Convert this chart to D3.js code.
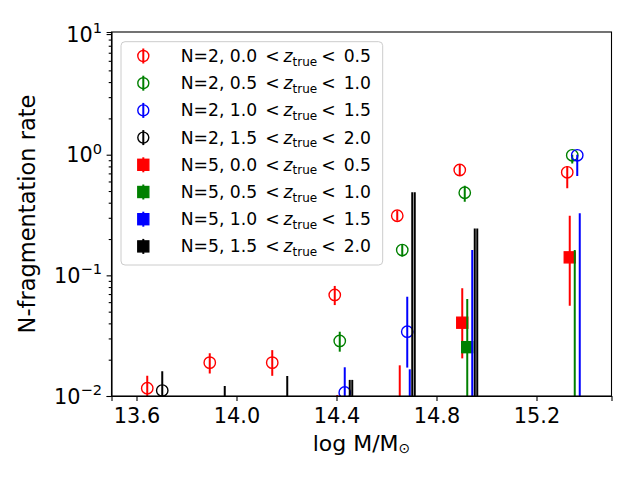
<!DOCTYPE html>
<html>
<head>
<meta charset="utf-8">
<script src="https://cdn.jsdelivr.net/npm/d3@7"></script>
<style>
  body { margin: 0; background: #fff; }
  text { font-family: 'DejaVu Sans', sans-serif; fill: #000; }
</style>
</head>
<body>
<div class="graphic"></div>
<script>
// mass bins (log M/Msun) of the N=2 / 0<z<0.5 points
const massBins = [13.643, 13.893, 14.143, 14.393, 14.643, 14.893, 15.323];
const zLabels = [['0.0', '0.5'], ['0.5', '1.0'], ['1.0', '1.5'], ['1.5', '2.0']];
const nValues = [2, 5];
const colors = ['#ff0000', '#008000', '#0000ff', '#000000'];

// rows = redshift bins, columns = mass bins; null = not drawn / below the axis
const n2Rate = [
  [0.0116, 0.0189, 0.0189, 0.0688, 0.312, 0.747, 0.715],
  [null, null, null, 0.0286, 0.162, 0.484, 0.989],
  [null, null, null, 0.0107, 0.0341, null, 0.989],
  [0.0111, null, null, null, null, null, null]
];
const n2Lo = [
  [null, 0.0154, 0.0147, 0.0567, 0.284, 0.679, 0.527],
  [null, null, null, 0.0233, 0.143, 0.408, 0.846],
  [null, null, null, null, 0.0172, null, 0.666],
  [null, null, null, null, null, null, null]
];
const n2Hi = [
  [0.0147, 0.0226, 0.0240, 0.0817, 0.343, 0.822, 0.806],
  [null, null, null, 0.0341, 0.182, 0.553, 1.0],
  [null, null, null, 0.0173, 0.0665, null, 1.0],
  [0.0160, 0.0121, 0.01465, 0.0136, 0.488, 0.245, null]
];
const n5Rate = [
  [null, null, null, null, null, 0.0405, 0.141],
  [null, null, null, null, null, 0.0254, null],
  [null, null, null, null, null, null, null],
  [null, null, null, null, null, null, null]
];
const n5Lo = [
  [null, null, null, null, null, 0.0205, 0.056],
  [null, null, null, null, null, null, null],
  [null, null, null, null, null, null, null],
  [null, null, null, null, null, null, null]
];
const n5Hi = [
  [null, null, null, 0.0102, 0.01796, 0.0782, 0.312],
  [null, null, null, null, null, 0.0637, 0.162],
  [null, null, null, null, 0.01664, 0.162, 0.327],
  [null, null, null, 0.0136, 0.488, 0.245, null]
];

const xTicks = [13.6, 14.0, 14.4, 14.8, 15.2];
const yTicks = [1e-2, 1e-1, 1e0, 1e1];

const width = 640;
const height = 480;
const plot = { left: 111.5, right: 611.5, top: 32, bottom: 396 };

const x = d3.scaleLinear().domain([13.5, 15.5]).range([plot.left, plot.right]);
const y = d3.scaleLog().domain([0.01, 10.4]).range([plot.bottom, plot.top]);

const svg = d3
  .select('.graphic')
  .append('svg')
  .attr('width', width)
  .attr('height', height);

svg.append('defs')
  .append('clipPath')
  .attr('id', 'plot-clip')
  .append('rect')
  .attr('x', plot.left)
  .attr('y', plot.top)
  .attr('width', plot.right - plot.left)
  .attr('height', plot.bottom - plot.top);

// flatten into one list per series, in matplotlib drawing order
const series = [];
nValues.forEach((n, ni) => {
  const rate = ni === 0 ? n2Rate : n5Rate;
  const lo = ni === 0 ? n2Lo : n5Lo;
  const hi = ni === 0 ? n2Hi : n5Hi;
  zLabels.forEach((z, zi) => {
    const pts = massBins.map((m, bi) => ({
      mass: m + zi * 0.02 + ni * 0.01,
      rate: rate[zi][bi],
      lo: lo[zi][bi],
      hi: hi[zi][bi]
    }));
    series.push({ n, zi, z, color: colors[zi], square: n === 5, pts });
  });
});

const marks = svg.append('g').attr('clip-path', 'url(#plot-clip)');

series.forEach(s => {
  const g = marks.append('g');

  g.selectAll('line')
    .data(s.pts.filter(d => d.hi !== null))
    .enter()
    .append('line')
    .attr('x1', d => x(d.mass))
    .attr('x2', d => x(d.mass))
    .attr('y1', d => (d.lo === null ? plot.bottom + 5 : y(d.lo)))
    .attr('y2', d => y(d.hi))
    .attr('stroke', s.color)
    .attr('stroke-width', 2);

  const pts = s.pts.filter(d => d.rate !== null);
  if (s.square) {
    g.selectAll('rect')
      .data(pts)
      .enter()
      .append('rect')
      .attr('x', d => x(d.mass) - 5.5)
      .attr('y', d => y(d.rate) - 5.5)
      .attr('width', 11)
      .attr('height', 11)
      .attr('fill', s.color)
      .attr('stroke', s.color)
      .attr('stroke-width', 1.4);
  } else {
    g.selectAll('circle')
      .data(pts)
      .enter()
      .append('circle')
      .attr('cx', d => x(d.mass))
      .attr('cy', d => y(d.rate))
      .attr('r', 5.7)
      .attr('fill', 'none')
      .attr('stroke', s.color)
      .attr('stroke-width', 1.4);
  }
});

// axes
const xAxis = svg.append('g')
  .attr('transform', `translate(0,${plot.bottom})`)
  .call(d3.axisBottom(x).tickValues(xTicks).tickSize(4.9).tickPadding(4).tickFormat(d3.format('.1f')));
xAxis.selectAll('text').attr('font-size', 20.8).attr('dy', null).attr('y', 27.3);

const minorY = [];
[0.01, 0.1, 1].forEach(dec => {
  for (let k = 2; k <= 9; k++) minorY.push(dec * k);
});
const yAxis = svg.append('g')
  .attr('transform', `translate(${plot.left},0)`)
  .call(d3.axisLeft(y).tickValues(yTicks).tickSize(4.9).tickFormat(''));
svg.append('g')
  .attr('transform', `translate(${plot.left},0)`)
  .call(d3.axisLeft(y).tickValues(minorY).tickSize(2.8).tickFormat(''))
  .call(g => g.select('.domain').remove());

yAxis.selectAll('.tick').each(function (d) {
  const t = d3.select(this).append('text')
    .attr('x', -9.5)
    .attr('y', 7)
    .attr('text-anchor', 'end')
    .attr('font-size', 20.8);
  t.append('tspan').text('10');
  t.append('tspan')
    .attr('font-size', 14.6)
    .attr('dy', -8.5)
    .text(String(Math.round(Math.log10(d))).replace('-', '\u2212'));
});

svg.selectAll('.domain').attr('stroke', '#000').attr('stroke-width', 1.1);
svg.selectAll('.tick line').attr('stroke', '#000').attr('stroke-width', 1.1);

// frame top and right
svg.append('rect')
  .attr('x', plot.left)
  .attr('y', plot.top)
  .attr('width', plot.right - plot.left)
  .attr('height', plot.bottom - plot.top)
  .attr('fill', 'none')
  .attr('stroke', '#000')
  .attr('stroke-width', 1.1);

// axis labels
const xl = svg.append('text')
  .attr('x', (plot.left + plot.right) / 2)
  .attr('y', 451)
  .attr('text-anchor', 'middle')
  .attr('font-size', 22);
xl.append('tspan').text('log M/M');
xl.append('tspan').attr('font-size', 14).attr('dy', 2).text('\u2299');

svg.append('text')
  .attr('transform', `translate(35,${(plot.top + plot.bottom) / 2}) rotate(-90)`)
  .attr('text-anchor', 'middle')
  .attr('font-size', 22.5)
  .text('N-fragmentation rate');

// legend
const legend = svg.append('g');
legend.append('rect')
  .attr('x', 121)
  .attr('y', 41.7)
  .attr('width', 261.7)
  .attr('height', 223.3)
  .attr('rx', 4)
  .attr('fill', '#fff')
  .attr('fill-opacity', 0.8)
  .attr('stroke', '#cccccc')
  .attr('stroke-width', 1);

series.forEach((s, i) => {
  const cy = 56 + i * 27.2;
  const row = legend.append('g');
  row.append('line')
    .attr('x1', 143.3).attr('x2', 143.3)
    .attr('y1', cy - 7.5).attr('y2', cy + 7.5)
    .attr('stroke', s.color)
    .attr('stroke-width', 2);
  if (s.square) {
    row.append('rect')
      .attr('x', 143.3 - 5.5).attr('y', cy - 5.5)
      .attr('width', 11).attr('height', 11)
      .attr('fill', s.color)
      .attr('stroke', s.color)
      .attr('stroke-width', 1.4);
  } else {
    row.append('circle')
      .attr('cx', 143.3).attr('cy', cy)
      .attr('r', 5.5)
      .attr('fill', 'none')
      .attr('stroke', s.color)
      .attr('stroke-width', 1.4);
  }
  const t = row.append('text')
    .attr('x', 180.7)
    .attr('y', cy + 6)
    .attr('font-size', 17.2);
  t.append('tspan').text(`N=${s.n}, ${s.z[0]}`);
  t.append('tspan').attr('dx', 8).text('<');
  t.append('tspan').attr('dx', 4).attr('font-style', 'italic').text('z');
  t.append('tspan').attr('font-size', 12).attr('dy', 3.5).text('true');
  t.append('tspan').attr('dy', -3.5).attr('dx', 4).text('<');
  t.append('tspan').attr('dx', 8).text(s.z[1]);
});
</script>
</body>
</html>
